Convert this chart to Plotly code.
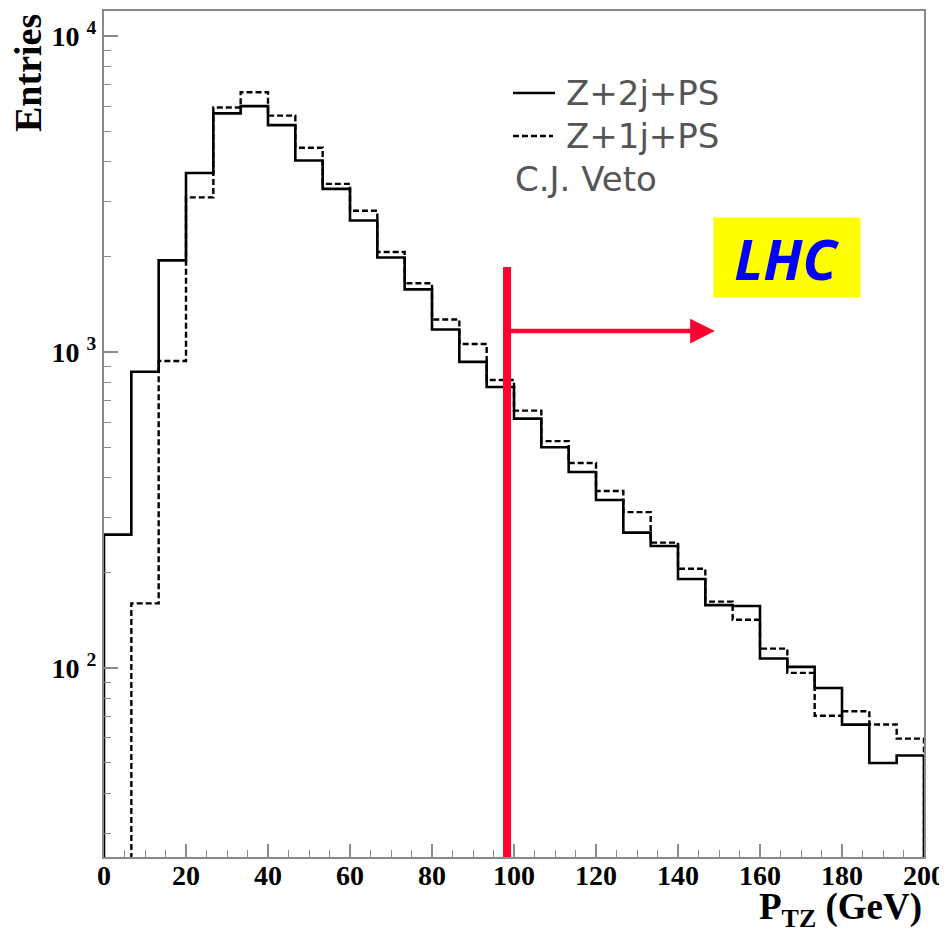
import numpy as np
import plotly.graph_objects as go

# ---- data ----
bin_edges = np.linspace(0, 200, 31)
z2j_ps = [264, 865, 1949, 3683, 5690, 6000, 5224, 4036, 3282, 2606,
          1991, 1578, 1178, 930, 774, 615, 499, 417, 340, 268,
          243, 191, 158, 157, 107, 100.7, 86.3, 66.1, 50, 52.8]
z1j_ps = [0, 160, 936, 3084, 5942, 6641, 5598, 4428, 3405, 2798,
          2071, 1649, 1267, 1059, 815, 652, 522, 445, 363, 311,
          249, 206, 162, 142, 115, 96.4, 70.5, 72.9, 66.2, 59.7]
veto_cut = 98.3          # GeV, position of red cut line
veto_line_top = 1858     # top of red vertical line (entries)
arrow_level = 1164       # height of the arrow
arrow_end = 149          # GeV
legend_names = ["Z+2j+PS", "Z+1j+PS"]
legend_note = "C.J. Veto"
y_tick_vals = [100, 1000, 10000]
y_tick_text = ["<b>10 <sup>2</sup></b>", "<b>10 <sup>3</sup></b>", "<b>10 <sup>4</sup></b>"]
x_tick_vals = list(range(0, 201, 20))

FLOOR = 1.0
YLOG_RANGE = [1.4012, 4.0792]


def step_xy(vals):
    v = np.array(vals, dtype=float)
    v = np.where(v > 0, v, FLOOR)
    xs = [bin_edges[0]] + list(bin_edges[:-1]) + [bin_edges[-1], bin_edges[-1]]
    ys = [FLOOR] + list(v) + [v[-1], FLOOR]
    return xs, ys


fig = go.Figure()
xs, ys = step_xy(z2j_ps)
fig.add_trace(go.Scatter(x=xs, y=ys, mode="lines", line_shape="hv",
                         line=dict(color="black", width=2.6), showlegend=False))
xs, ys = step_xy(z1j_ps)
fig.add_trace(go.Scatter(x=xs, y=ys, mode="lines", line_shape="hv",
                         line=dict(color="black", width=2.4, dash="6px,3px"), showlegend=False))

# red veto line
fig.add_trace(go.Scatter(x=[veto_cut, veto_cut], y=[FLOOR, veto_line_top], mode="lines",
                         line=dict(color="#FF0030", width=8), showlegend=False))
# arrow
fig.add_annotation(x=arrow_end, y=np.log10(arrow_level), ax=veto_cut, ay=np.log10(arrow_level),
                   xref="x", yref="y", axref="x", ayref="y", text="", showarrow=True,
                   arrowhead=2, arrowsize=1.1, arrowwidth=4.5, arrowcolor="#FF0030")

# plot-area pixel helpers (plot area spans x 104..924, y 11..857 in the page)
def px2paper_x(px):
    return (px - 104) / 820.0

def px2paper_y(py):
    return (857 - py) / 846.0

# LHC box
fig.add_annotation(x=px2paper_x(787), y=px2paper_y(257.5), xref="paper", yref="paper",
                   xanchor="center", yanchor="middle",
                   text="<b><i>LHC</i></b>", showarrow=False, bgcolor="#FFFF00",
                   width=144, height=77, font=dict(family="Noto Sans", size=56, color="#0000FF"))

# legend
fig.add_shape(type="line", xref="paper", yref="paper", x0=px2paper_x(513), x1=px2paper_x(555),
              y0=px2paper_y(93), y1=px2paper_y(93), line=dict(color="black", width=2.6))
fig.add_shape(type="line", xref="paper", yref="paper", x0=px2paper_x(513), x1=px2paper_x(553),
              y0=px2paper_y(136), y1=px2paper_y(136), line=dict(color="black", width=2.4, dash="6px,3px"))
legend_font = dict(family="DejaVu Sans", size=34, color="#555555")
for name, py in zip(legend_names, [93, 136]):
    fig.add_annotation(x=px2paper_x(564), y=px2paper_y(py), xref="paper", yref="paper",
                       xanchor="left", yanchor="middle", text=name, showarrow=False, font=legend_font)
fig.add_annotation(x=px2paper_x(513), y=px2paper_y(179), xref="paper", yref="paper",
                   xanchor="left", yanchor="middle", text=legend_note, showarrow=False, font=legend_font)

# axis titles
fig.add_annotation(x=px2paper_x(28), y=px2paper_y(73), xref="paper", yref="paper",
                   text="<b>Entries</b>", textangle=-90, showarrow=False,
                   xanchor="center", yanchor="middle",
                   font=dict(family="Liberation Serif", size=38, color="black"))
fig.add_annotation(x=1.0, y=px2paper_y(909), xref="paper", yref="paper",
                   text="<b>P<sub>TZ</sub> (GeV)</b>", showarrow=False,
                   xanchor="right", yanchor="middle",
                   font=dict(family="Liberation Serif", size=37, color="black"))

axis_color = "#8a8a8a"
fig.update_xaxes(range=[0, 200], tickvals=x_tick_vals, ticktext=[f"<b>{v}</b>" for v in x_tick_vals],
                 ticks="inside", ticklen=13, tickwidth=1.5, tickcolor=axis_color,
                 minor=dict(dtick=5, tick0=0, ticks="inside", ticklen=7, tickwidth=1.2, tickcolor=axis_color),
                 showline=True, linecolor=axis_color, linewidth=2, mirror=True,
                 showgrid=False, zeroline=False, ticklabelstandoff=-8,
                 tickfont=dict(family="Liberation Serif", size=28, color="black"))
minor_y = [m * 10 ** e for e in range(1, 4) for m in range(2, 10)]
fig.update_yaxes(type="log", range=YLOG_RANGE, tickvals=y_tick_vals, ticktext=y_tick_text,
                 ticks="inside", ticklen=14, tickwidth=1.5, tickcolor=axis_color,
                 minor=dict(tickvals=minor_y, ticks="inside", ticklen=7, tickwidth=1.2, tickcolor=axis_color),
                 showline=True, linecolor=axis_color, linewidth=2, mirror=True,
                 showgrid=False, zeroline=False,
                 tickfont=dict(family="Liberation Serif", size=28, color="black"))

# page body has an 8px margin, so shift the plot area up/left by 8px
fig.update_layout(width=947, height=944, margin=dict(l=96, r=31, t=3, b=95, autoexpand=False),
                  plot_bgcolor="white", paper_bgcolor="white", showlegend=False)

fig.write_html("out.html")
